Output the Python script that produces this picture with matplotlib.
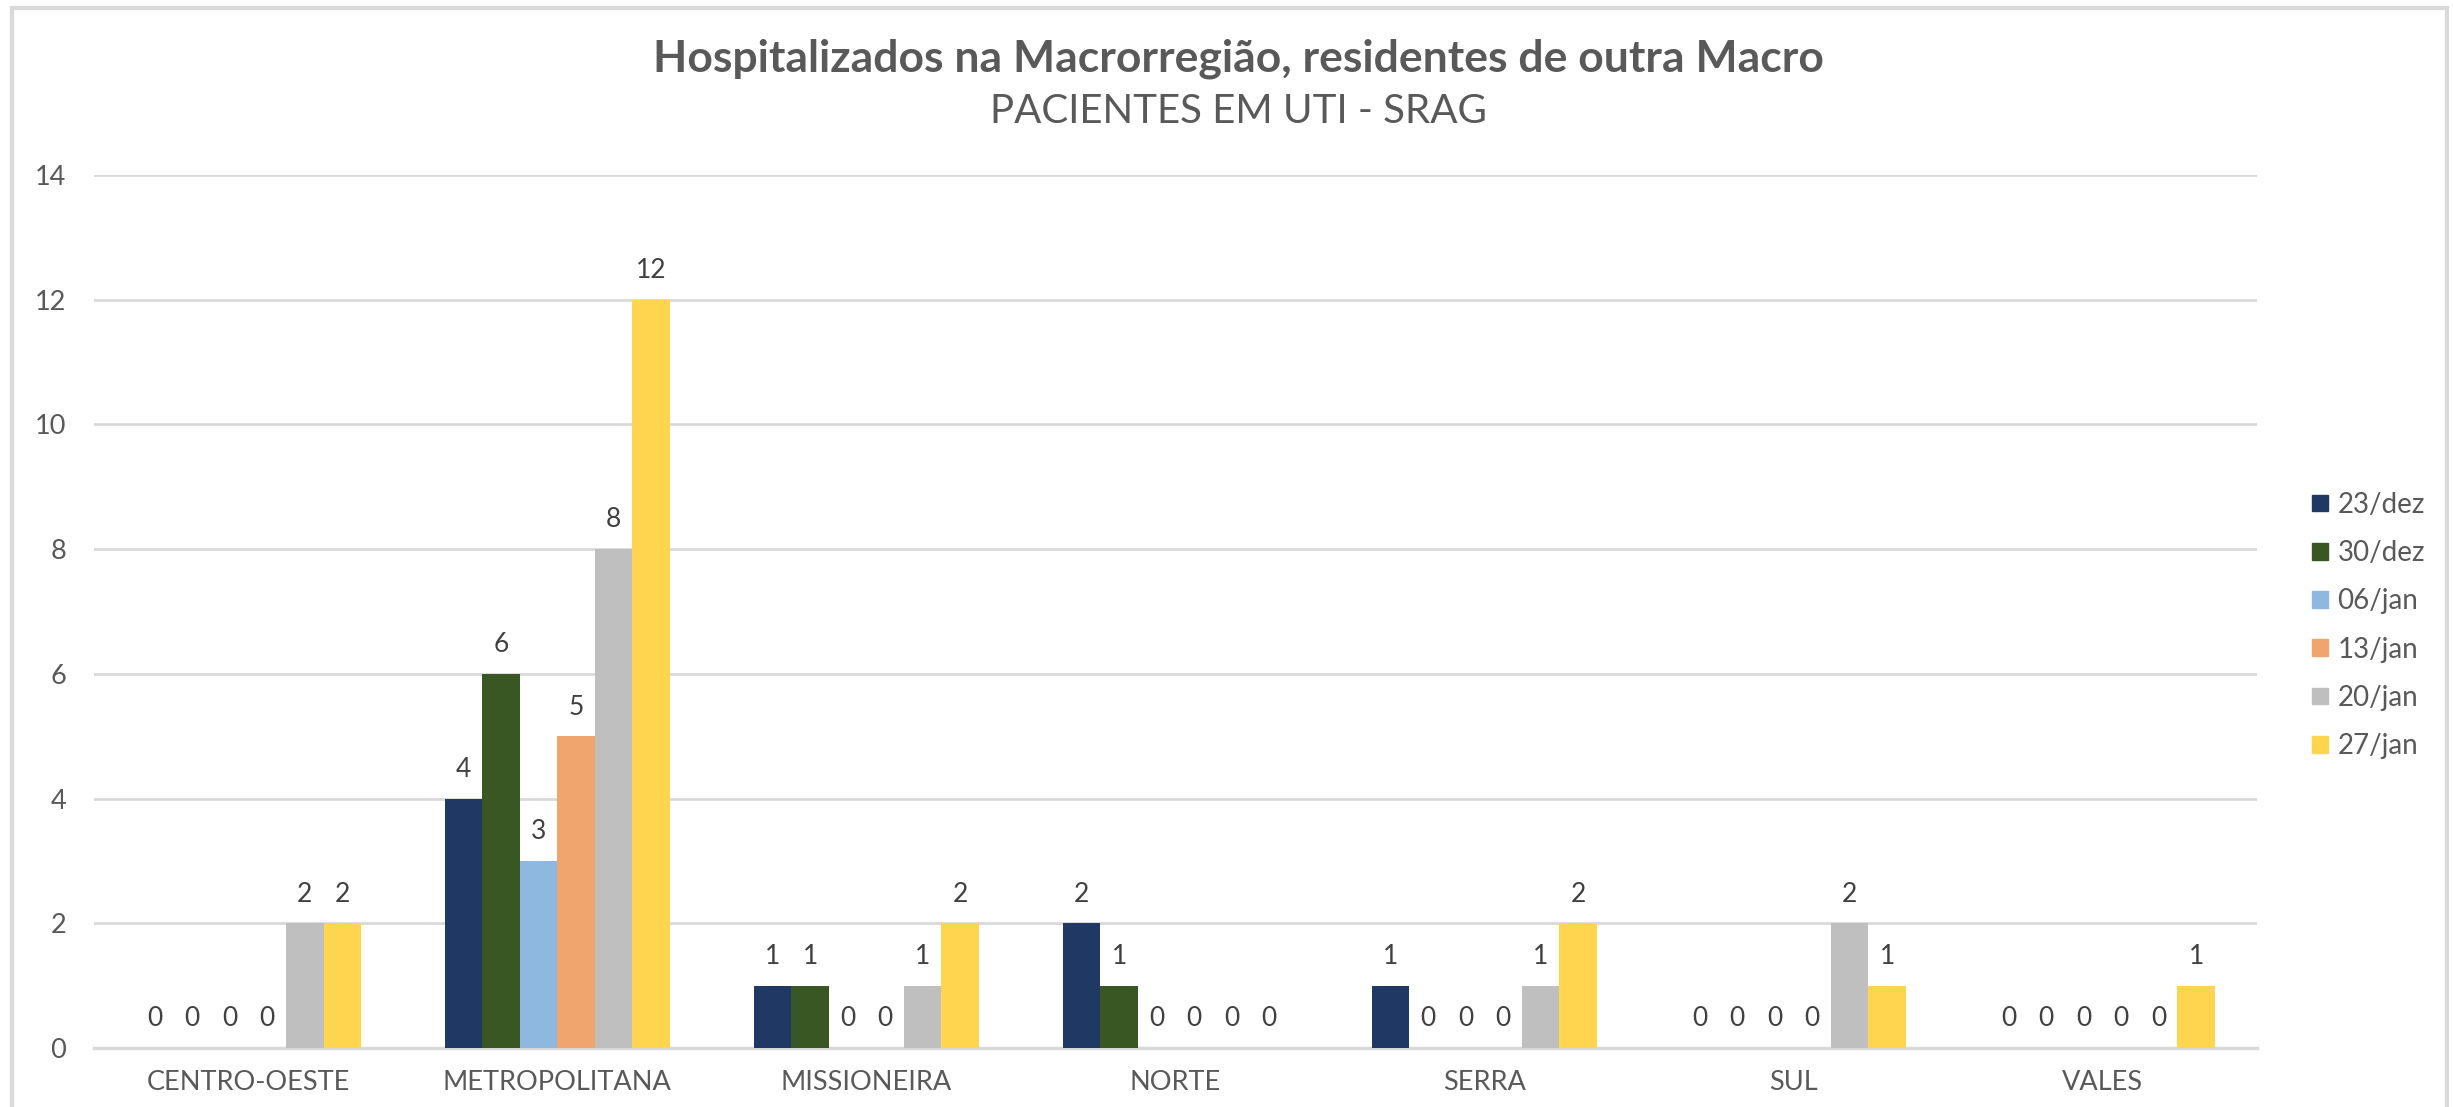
import matplotlib
matplotlib.use('Agg')
import matplotlib.pyplot as plt
import matplotlib.patches as mpatches
import numpy as np

plt.rcParams['font.family'] = ['Lato', 'DejaVu Sans']

regioes = ['CENTRO-OESTE', 'METROPOLITANA', 'MISSIONEIRA', 'NORTE', 'SERRA', 'SUL', 'VALES']
semanas = ['23/dez', '30/dez', '06/jan', '13/jan', '20/jan', '27/jan']
cores = ['#203864', '#385723', '#8EB8E0', '#F0A56F', '#BFBFBF', '#FFD44F']

s_23dez = [0, 4, 1, 2, 1, 0, 0]
s_30dez = [0, 6, 1, 1, 0, 0, 0]
s_06jan = [0, 3, 0, 0, 0, 0, 0]
s_13jan = [0, 5, 0, 0, 0, 0, 0]
s_20jan = [2, 8, 1, 0, 1, 2, 0]
s_27jan = [2, 12, 2, 0, 2, 1, 1]
series = [s_23dez, s_30dez, s_06jan, s_13jan, s_20jan, s_27jan]

fig = plt.figure(figsize=(24.53, 11.07), dpi=100)
ax = fig.add_axes([0.0383, 0.0533, 0.8817, 0.7887])

x = np.arange(len(regioes))
w = 0.1215
for i, (nome, vals, cor) in enumerate(zip(semanas, series, cores)):
    pos = x + (i - 2.5) * w
    ax.bar(pos, vals, width=w, color=cor, label=nome, zorder=3)
    for xp, v in zip(pos, vals):
        ax.annotate(str(v), (xp, v), xytext=(0, 21), textcoords='offset points',
                    ha='center', va='center', fontsize=19, color='#404040')

ax.set_xlim(-0.5, len(regioes) - 0.5)
ax.set_ylim(0, 14)
ax.set_yticks(range(0, 15, 2))
ax.set_xticks(x)
ax.set_xticklabels(regioes)
ax.tick_params(axis='both', length=0, labelsize=19.5, labelcolor='#595959')
ax.tick_params(axis='y', pad=20)
ax.tick_params(axis='x', pad=16)
ax.grid(axis='y', color='#D9D9D9', linewidth=2, zorder=0)
for s in ['top', 'right', 'left']:
    ax.spines[s].set_visible(False)
ax.spines['bottom'].set_color('#D9D9D9')
ax.spines['bottom'].set_linewidth(2.5)

fig.text(0.505, 0.947, 'Hospitalizados na Macrorregião, residentes de outra Macro',
         ha='center', va='center', fontsize=32, fontweight='bold', color='#595959')
fig.text(0.505, 0.899, 'PACIENTES EM UTI - SRAG',
         ha='center', va='center', fontsize=29, color='#595959')

handles = [mpatches.Patch(color=c) for c in cores]
fig.legend(handles, semanas, loc='center left', bbox_to_anchor=(0.9325, 0.435),
           frameon=False, fontsize=20, labelcolor='#595959',
           handlelength=0.55, handleheight=0.55, handletextpad=0.35, labelspacing=0.8)

# moldura do gráfico (como no Excel)
fig.patches.append(mpatches.Rectangle((12 / 2453, -0.05), (2447 - 12) / 2453, 1 - 8 / 1107 + 0.05,
                                      transform=fig.transFigure, fill=False,
                                      edgecolor='#D9D9D9', linewidth=3))

plt.savefig('out.png', format='png')
plt.close()
